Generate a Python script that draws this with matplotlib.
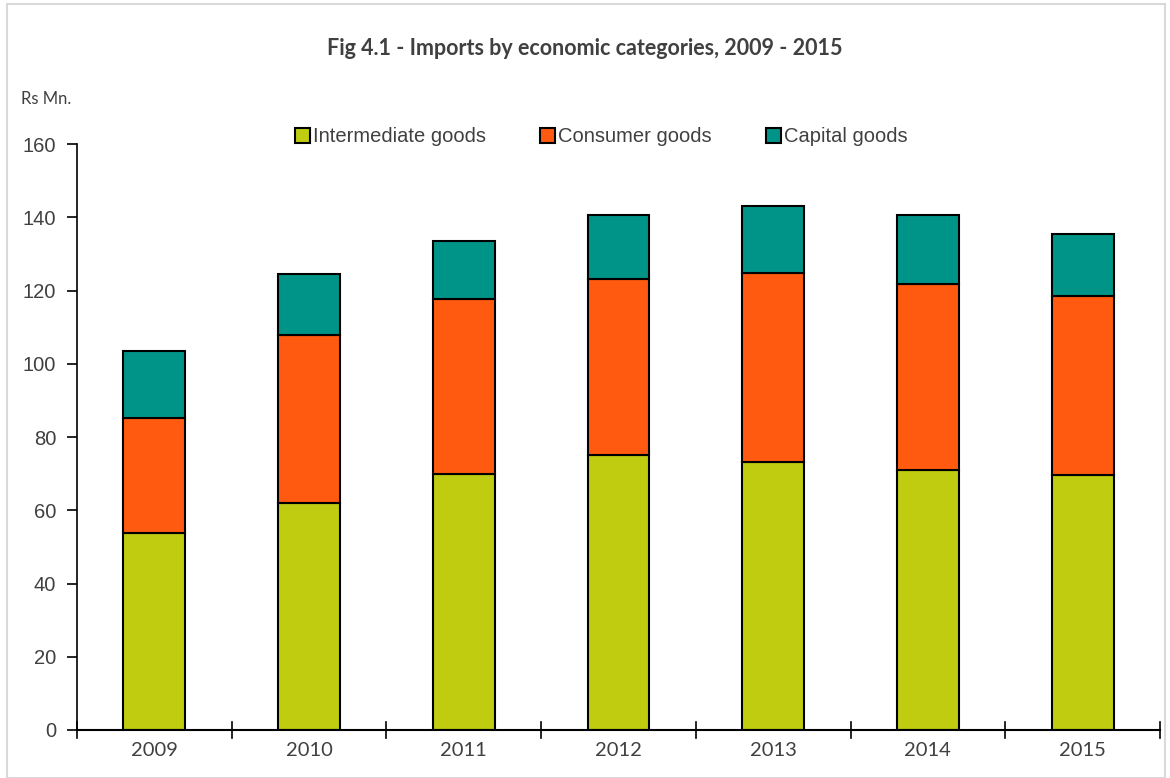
import matplotlib
matplotlib.use("Agg")
import matplotlib.pyplot as plt
from matplotlib.patches import Rectangle
import numpy as np

years = ["2009", "2010", "2011", "2012", "2013", "2014", "2015"]
intermediate = [53.8, 62.0, 69.9, 75.1, 73.2, 71.0, 69.6]
consumer = [31.4, 45.8, 47.8, 48.0, 51.6, 50.8, 48.9]
capital = [18.3, 16.7, 15.8, 17.5, 18.3, 18.8, 16.9]

c_int = "#BFCC10"
c_con = "#FF5A0F"
c_cap = "#009488"
txt = "#404040"

fig = plt.figure(figsize=(11.7, 7.78), dpi=100)
fig.patches.append(Rectangle((0.006, 0.0), 0.99, 0.995, transform=fig.transFigure,
                             fill=False, edgecolor="#d9d9d9", lw=1.5))
ax = fig.add_axes([0.0658, 0.0617, 0.9256, 0.7532])

x = np.arange(len(years))
w = 0.40
b1 = ax.bar(x, intermediate, w, color=c_int, edgecolor="black", lw=1.5, label="Intermediate goods")
bottom2 = np.array(intermediate)
b2 = ax.bar(x, consumer, w, bottom=bottom2, color=c_con, edgecolor="black", lw=1.5, label="Consumer goods")
bottom3 = bottom2 + np.array(consumer)
b3 = ax.bar(x, capital, w, bottom=bottom3, color=c_cap, edgecolor="black", lw=1.5, label="Capital goods")

ax.set_xlim(-0.5, len(years) - 0.5)
ax.set_ylim(0, 160)
ax.set_yticks(range(0, 161, 20))
ax.set_yticklabels([str(v) for v in range(0, 161, 20)], family="Liberation Sans", fontsize=14.5, color=txt)
ax.set_xticks(x)
ax.set_xticklabels(years, family="Lato", fontsize=14.5, color=txt)
ax.tick_params(axis="x", length=0, pad=9)
ax.tick_params(axis="y", direction="out", length=7, width=1.2, color="black", pad=8)
for xb in np.arange(-0.5, len(years), 1.0):
    ax.plot([xb, xb], [-2.2, 2.2], color="black", lw=1.2, clip_on=False)

for s in ["top", "right"]:
    ax.spines[s].set_visible(False)
ax.spines["left"].set_linewidth(1.2)
ax.spines["bottom"].set_linewidth(1.5)

fig.text(0.5, 0.938, "Fig 4.1 - Imports by economic categories, 2009 - 2015", ha="center", va="center",
         family="Lato", fontweight="bold", fontsize=15.5, color=txt)
fig.text(0.018, 0.873, "Rs Mn.", ha="left", va="center", family="Lato", fontsize=12, color=txt)

leg = fig.legend(handles=[b1, b2, b3], loc="center", bbox_to_anchor=(0.514, 0.824), ncol=3,
                 frameon=False, prop={"family": "Liberation Sans", "size": 14.5},
                 handlelength=0.75, handleheight=0.75, handletextpad=0.15, columnspacing=2.7)
for t in leg.get_texts():
    t.set_color(txt)

fig.savefig("out.png", dpi=100)
